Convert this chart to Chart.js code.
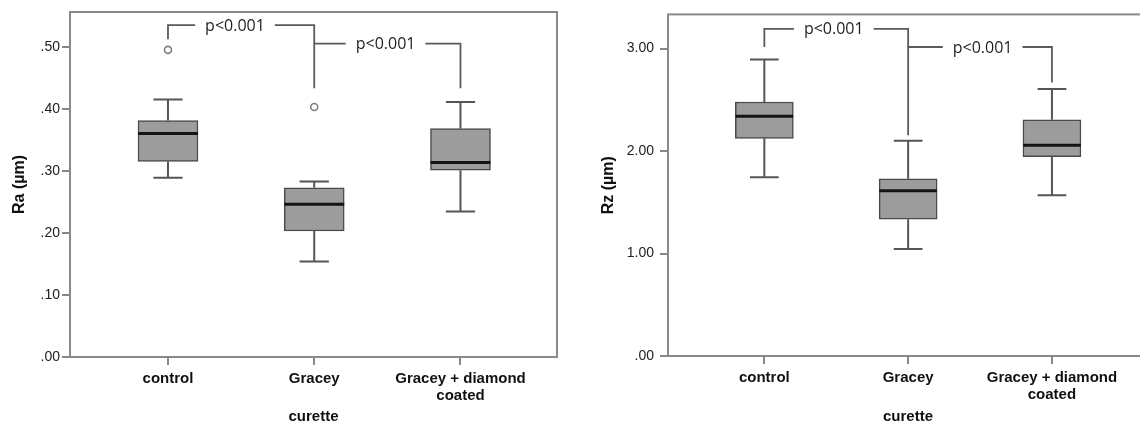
<!DOCTYPE html>
<html><head><meta charset="utf-8">
<script src="https://cdn.jsdelivr.net/npm/chart.js@4.4.1/dist/chart.umd.min.js"></script>
<style>
html,body{margin:0;padding:0;background:#fff;overflow:hidden;width:1140px;height:429px;position:relative;}
#w1{position:absolute;left:0;top:0;width:570px;height:429px;}
#w2{position:absolute;left:580px;top:0;width:600px;height:429px;}
</style></head><body>
<div id="w1"><canvas id="c1"></canvas></div>
<div id="w2"><canvas id="c2"></canvas></div>
<script>
// ---- data ----
const categories = ['control', 'Gracey', ['Gracey + diamond', 'coated']];

// Ra (µm)
const raMin      = [0.289, 0.154, 0.2345];
const raQ1       = [0.315, 0.203, 0.301];
const raMedian   = [0.360, 0.246, 0.3135];
const raQ3       = [0.381, 0.2726, 0.368];
const raMax      = [0.415, 0.283, 0.411];
const raOutliers = [[0.495], [0.403], []];
const raTicks    = [0, 0.1, 0.2, 0.3, 0.4, 0.5];

// Rz (µm)
const rzMin      = [1.745, 1.044, 1.569];
const rzQ1       = [2.124, 1.334, 1.945];
const rzMedian   = [2.340, 1.613, 2.057];
const rzQ3       = [2.478, 1.729, 2.305];
const rzMax      = [2.893, 2.099, 2.604];
const rzOutliers = [[], [], []];
const rzTicks    = [0, 1, 2, 3];

// significance brackets: from/to category index, bar height, leg ends
const raBrackets = [
  {from: 0, to: 1, h: 0.535, fromLow: 0.512, toLow: 0.433, label: 'p<0.001', labelAt: 0.458},
  {from: 1, to: 2, h: 0.505, fromLow: 0.505, toLow: 0.433, label: 'p<0.001', labelAt: 1.488}
];
const rzBrackets = [
  {from: 0, to: 1, h: 3.192, fromLow: 3.015, toLow: 2.153, label: 'p<0.001', labelAt: 0.483},
  {from: 1, to: 2, h: 3.015, fromLow: 3.015, toLow: 2.668, label: 'p<0.001', labelAt: 1.518}
];

// ---- rendering ----
const LINE = '#555555';
const fmt = v => Number(v).toFixed(2).replace(/^0\./, '.');

const framePlugin = {
  id: 'frame',
  beforeDatasetsDraw(chart) {
    const a = chart.chartArea, ctx = chart.ctx;
    ctx.save();
    ctx.strokeStyle = '#8a8a8a';
    ctx.lineWidth = 2;
    ctx.strokeRect(a.left, a.top, a.right - a.left, a.bottom - a.top);
    ctx.restore();
  }
};
const labelPlugin = {
  id: 'bracketLabels',
  afterDatasetsDraw(chart) {
    const brs = chart.options.plugins.bracketLabels.brackets;
    const ctx = chart.ctx, xs = chart.scales.x, ys = chart.scales.y;
    ctx.save();
    ctx.font = '16px "Open Sans"';
    ctx.textAlign = 'center';
    ctx.textBaseline = 'middle';
    brs.forEach(b => {
      const px = xs.getPixelForValue(b.labelAt), py = ys.getPixelForValue(b.h);
      const w = ctx.measureText(b.label).width;
      ctx.fillStyle = '#fff';
      ctx.fillRect(px - w / 2 - 10, py - 4, w + 20, 8);
      ctx.fillStyle = '#1e1e1e';
      ctx.fillText(b.label, px, py + 1);
    });
    ctx.restore();
  }
};

function buildChart(id, d) {
  const n = categories.length;
  const whisk = [], meds = [], outs = [], brk = [];
  const capHalf = 0.1, boxHalf = d.boxHalf;
  for (let i = 0; i < n; i++) {
    whisk.push({x: i, y: d.q3[i]}, {x: i, y: d.max[i]}, {x: i, y: null});
    whisk.push({x: i, y: d.q1[i]}, {x: i, y: d.min[i]}, {x: i, y: null});
    whisk.push({x: i - capHalf, y: d.max[i]}, {x: i + capHalf, y: d.max[i]}, {x: i, y: null});
    whisk.push({x: i - capHalf, y: d.min[i]}, {x: i + capHalf, y: d.min[i]}, {x: i, y: null});
    meds.push({x: i - boxHalf, y: d.med[i]}, {x: i + boxHalf, y: d.med[i]}, {x: i, y: null});
    d.out[i].forEach(v => outs.push({x: i, y: v}));
  }
  d.brackets.forEach(b => {
    brk.push({x: b.from, y: b.fromLow}, {x: b.from, y: b.h}, {x: b.to, y: b.h}, {x: b.to, y: b.toLow}, {x: b.to, y: null});
  });
  const boxes = categories.map((c, i) => ({x: i, y: [d.q1[i], d.q3[i]]}));

  const lineDs = (data, color, width, order) => ({
    type: 'line', data, borderColor: color, borderWidth: width, pointRadius: 0,
    pointHoverRadius: 0, spanGaps: false, tension: 0, fill: false, order
  });

  return new Chart(document.getElementById(id), {
    type: 'scatter',
    data: {
      datasets: [
        {type: 'bar', data: boxes, backgroundColor: '#9c9c9c', borderColor: '#4a4a4a',
         borderWidth: 1.5, borderSkipped: false, barThickness: d.barPx, order: 5},
        lineDs(whisk, LINE, 2, 4),
        lineDs(meds, '#141414', 3, 3),
        {type: 'scatter', data: outs, pointStyle: 'circle', pointRadius: 3.5,
         pointBackgroundColor: '#fff', pointBorderColor: '#808080', pointBorderWidth: 1.6, order: 2},
        lineDs(brk, '#5a5a5a', 1.8, 1)
      ]
    },
    options: {
      responsive: true, maintainAspectRatio: false, animation: false, events: [],
      layout: {padding: d.padding},
      plugins: {legend: {display: false}, tooltip: {enabled: false},
        bracketLabels: {brackets: d.brackets}},
      scales: {
        x: {
          type: 'linear', min: -0.67, max: d.xMax, offset: false,
          afterBuildTicks: s => { s.ticks = categories.map((c, i) => ({value: i})); },
          ticks: {callback: v => categories[v], color: '#111', padding: 6, maxRotation: 0, autoSkip: false,
                  font: {family: '"Liberation Sans", Arial', size: 15, weight: 'bold', lineHeight: 1.1}},
          grid: {display: true, offset: false, drawOnChartArea: false, drawTicks: true, tickLength: 8, color: '#888', lineWidth: 2},
          border: {display: false},
          title: {display: true, text: 'curette', color: '#111', padding: {top: 0, bottom: 3},
                  font: {family: '"Liberation Sans", Arial', size: 15, weight: 'bold', lineHeight: 1.2}},
          afterFit: s => { s.height = d.xAxisH; }
        },
        y: {
          type: 'linear', min: 0, max: d.yMax,
          afterBuildTicks: s => { s.ticks = d.ticks.map(v => ({value: v})); },
          ticks: {callback: v => fmt(v), color: '#222', padding: d.tickPad,
                  font: {family: '"Liberation Sans", Arial', size: 14}},
          grid: {display: true, offset: false, drawOnChartArea: false, drawTicks: true, tickLength: 8, color: '#888', lineWidth: 2},
          border: {display: false},
          title: {display: true, text: d.title, color: '#111', padding: {top: d.titlePad, bottom: 0},
                  font: {family: '"Liberation Sans", Arial', size: 16, weight: 'bold', lineHeight: 1.2}},
          afterFit: s => { s.width = d.yAxisW; }
        }
      }
    },
    plugins: [framePlugin, labelPlugin]
  });
}

buildChart('c1', {
  min: raMin, q1: raQ1, med: raMedian, q3: raQ3, max: raMax, out: raOutliers,
  ticks: raTicks, brackets: raBrackets, title: 'Ra (µm)',
  yMax: 0.556, xMax: 2.66, barPx: 60, boxHalf: 0.205,
  padding: {top: 12, right: 13, left: 0, bottom: 0}, xAxisH: 72, yAxisW: 70, titlePad: 10, tickPad: 2
});
buildChart('c2', {
  min: rzMin, q1: rzQ1, med: rzMedian, q3: rzQ3, max: rzMax, out: rzOutliers,
  ticks: rzTicks, brackets: rzBrackets, title: 'Rz (µm)',
  yMax: 3.333, xMax: 2.668, barPx: 58, boxHalf: 0.2,
  padding: {top: 10.5, right: 32, left: 0, bottom: 0}, xAxisH: 73, yAxisW: 88, titlePad: 19, tickPad: 6
});
</script>
</body></html>
